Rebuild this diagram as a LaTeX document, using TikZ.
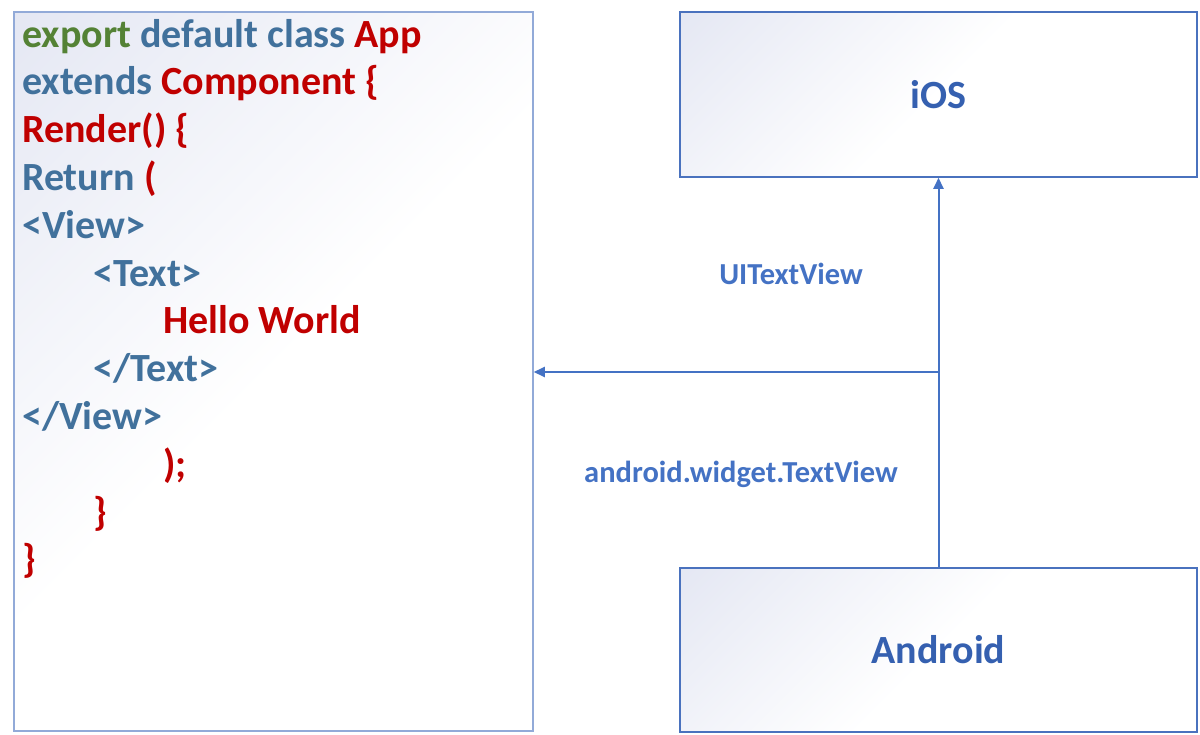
\documentclass[tikz,border=0pt]{standalone}
\usepackage{fontspec}
\setmainfont{Carlito}
\usetikzlibrary{arrows.meta,calc,positioning}

\definecolor{kwgreen}{HTML}{548235}
\definecolor{kwblue}{HTML}{41719C}
\definecolor{kwred}{HTML}{C00000}
\definecolor{flowblue}{HTML}{4472C4}
\definecolor{osblue}{HTML}{3560B0}
\definecolor{boxline}{HTML}{4A72BE}
\definecolor{codeline}{HTML}{92AAD8}
\definecolor{boxtint}{HTML}{E4E7F3}

\pgfdeclareverticalshading{boxfade}{100bp}{color(0bp)=(white); color(50bp)=(white); color(86bp)=(boxtint); color(100bp)=(boxtint)}

\begin{document}
\begin{tikzpicture}[x=1pt, y=-1pt,
    box/.style={draw=boxline, line width=1.5pt, shade, shading=boxfade, shading angle=45, inner sep=0pt},
    codeln/.style={anchor=base west, inner sep=0pt, font=\fontsize{40}{48}\selectfont\bfseries},
    ostext/.style={font=\fontsize{40}{48}\selectfont\bfseries, text=osblue},
    apitext/.style={font=\fontsize{30.5}{36}\selectfont\bfseries, text=flowblue},
    flow/.style={draw=flowblue, line width=2pt, -{Triangle[length=11pt,width=10pt]}}]

    \useasboundingbox (0,0) rectangle (1200,734);

    % boxes
    \node[box, draw=codeline, minimum width=519pt, minimum height=719pt] (code) at (273.5,371.5) {};
    \node[box, minimum width=517pt, minimum height=165pt] (ios) at (938.5,94.5) {};
    \node[box, minimum width=517pt, minimum height=164pt] (android) at (938.5,650) {};

    \node[ostext] (iosname) at (ios) {iOS};
    \node[ostext] (androidname) at (android) {Android};

    % code lines
    \node[codeln] (export) at (22,47) {\color{kwgreen}export \color{kwblue}default class \color{kwred}App};
    \node[codeln] (extends) at (22,94.8) {\color{kwblue}extends \color{kwred}Component \{};
    \node[codeln] (render) at (22,142.6) {\color{kwred}Render() \{};
    \node[codeln] (return) at (22,190.4) {\color{kwblue}Return \color{kwred}(};
    \node[codeln] (viewopen) at (22,238.2) {\color{kwblue}<View>};
    \node[codeln] (textopen) at (93,286) {\color{kwblue}<Text>};
    \node[codeln] (hello) at (163,333.8) {\color{kwred}Hello World};
    \node[codeln] (textclose) at (93,381.6) {\color{kwblue}</Text>};
    \node[codeln] (viewclose) at (22,429.4) {\color{kwblue}</View>};
    \node[codeln] (paren) at (163,477.2) {\color{kwred});};
    \node[codeln] (innerbrace) at (93,525) {\color{kwred}\}};
    \node[codeln] (outerbrace) at (22,572.8) {\color{kwred}\}};

    % connectors
    \draw[flow] (android) -- (ios);
    \coordinate (split) at (ios.south |- 0,372);
    \draw[flow] (split) -- (code.east |- split);

    \node[apitext] (uitext) at (791,274) {UITextView};
    \node[apitext] (droidtext) at (741,474) {android.widget.TextView};

\end{tikzpicture}
\end{document}
